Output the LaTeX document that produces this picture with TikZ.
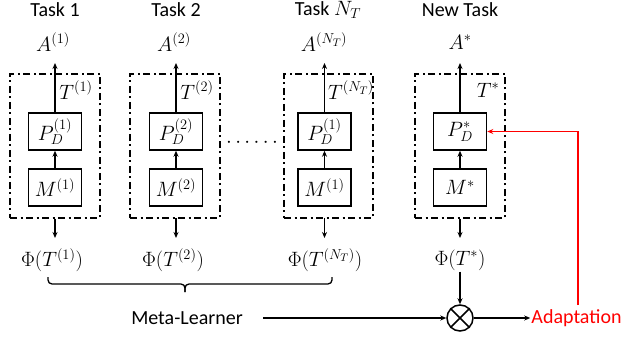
\documentclass[tikz,border=0pt]{standalone}
\usepackage{fontspec}
\setmainfont{Carlito}
\usetikzlibrary{arrows.meta}
\begin{document}
\begin{tikzpicture}[x=1pt,y=-1pt,
  sans/.style={font=\fontsize{20}{22}\selectfont, inner sep=1pt},
  mth/.style={font=\fontsize{22}{24}\selectfont, inner sep=1pt},
  blk/.style={draw, line width=1.5pt, minimum width=53pt, minimum height=37pt, inner sep=0pt, font=\fontsize{22}{24}\selectfont},
  grp/.style={draw, line width=1.2pt, dash pattern=on 7pt off 3.5pt on 2pt off 3.5pt, minimum width=90pt, minimum height=144pt, inner sep=0pt},
  arr/.style={-{Stealth[length=6pt,width=5pt]}, line width=1.5pt},
  rarr/.style={-{Stealth[length=6pt,width=5pt]}, line width=1.5pt, red},
]
\useasboundingbox (0,0) rectangle (624,339);

% column 1
\node[grp] (g1) at (55,146) {};
\node[blk] (p1) at (55,131.5) {$P_D^{(1)}$};
\node[blk] (m1) at (55,187.5) {$M^{(1)}$};
\node[sans] (t1) at (55,10) {Task 1};
\node[mth] (a1) at (53,42) {$A^{(1)}$};
\node[mth] (T1) at (76,90) {$T^{(1)}$};
\node[mth] (f1) at (52,260) {$\Phi(T^{(1)})$};
\coordinate (a1t) at (55,63);
\coordinate (f1t) at (55,238);
\draw[arr] (m1) -- (p1);
\draw[arr] (p1) -- (a1t);
\draw[arr] (g1.south) -- (f1t);

% column 2
\node[grp] (g2) at (175,146) {};
\node[blk] (p2) at (176,131.5) {$P_D^{(2)}$};
\node[blk] (m2) at (176,187.5) {$M^{(2)}$};
\node[sans] (t2) at (176,10) {Task 2};
\node[mth] (a2) at (174,42) {$A^{(2)}$};
\node[mth] (T2) at (197,90) {$T^{(2)}$};
\node[mth] (f2) at (173,260) {$\Phi(T^{(2)})$};
\coordinate (a2t) at (176,63);
\coordinate (f2t) at (176,238);
\draw[arr] (m2) -- (p2);
\draw[arr] (p2) -- (a2t);
\draw[arr] (176,218) -- (f2t);

% dots
\node[mth] (dots) at (252,143) {$\cdots\cdots$};

% column 3
\node[grp, minimum width=89pt] (g3) at (328.5,146) {};
\node[blk] (p3) at (324.5,131.5) {$P_D^{(1)}$};
\node[blk] (m3) at (324.5,187.5) {$M^{(1)}$};
\node[sans] (t3) at (328,10) {Task $N_T$};
\node[mth] (a3) at (324,42) {$A^{(N_T)}$};
\node[mth] (T3) at (351,90) {$T^{(N_T)}$};
\node[mth] (f3) at (325,260) {$\Phi(T^{(N_T)})$};
\coordinate (a3t) at (324.5,63);
\coordinate (f3t) at (324.5,238);
\draw[arr] (m3) -- (p3);
\draw[arr] (p3) -- (a3t);
\draw[arr] (324.5,218) -- (f3t);

% column 4
\node[grp] (g4) at (460,146) {};
\node[blk] (p4) at (460,131.5) {$P_D^{*}$};
\node[blk] (m4) at (460,187.5) {$M^{*}$};
\node[sans] (t4) at (460,10) {New Task};
\node[mth] (a4) at (460,42) {$A^{*}$};
\node[mth] (T4) at (488,90) {$T^{*}$};
\node[mth] (f4) at (460,260) {$\Phi(T^{*})$};
\coordinate (a4t) at (460,63);
\coordinate (f4t) at (460,238);
\draw[arr] (m4) -- (p4);
\draw[arr] (p4) -- (a4t);
\draw[arr] (g4.south) -- (f4t);

% brace
\draw[line width=1.3pt, rounded corners=4pt] (48,277) -- (48,284) -- (185,284) -- (185,292);
\draw[line width=1.3pt, rounded corners=4pt] (185,292) -- (185,284) -- (332,284) -- (332,277);

% bottom row
\node[sans] (ml) at (187,318) {Meta-Learner};
\coordinate (mls) at (263,318);
\node[draw, circle, line width=1.5pt, minimum size=26pt, inner sep=0pt] (x) at (460,318) {};
\draw[line width=1.5pt] (x.45) -- (x.225) (x.135) -- (x.315);
\node[sans, red] (ad) at (576.5,318) {Adaptation};
\draw[arr] (mls) -- (x.west);
\draw[arr] (f4.south) -- (x.north);
\draw[arr] (x.east) -- (ad.west);
\draw[rarr] (ad.north) ++(1.5,-3) |- (p4.east);
\end{tikzpicture}
\end{document}
